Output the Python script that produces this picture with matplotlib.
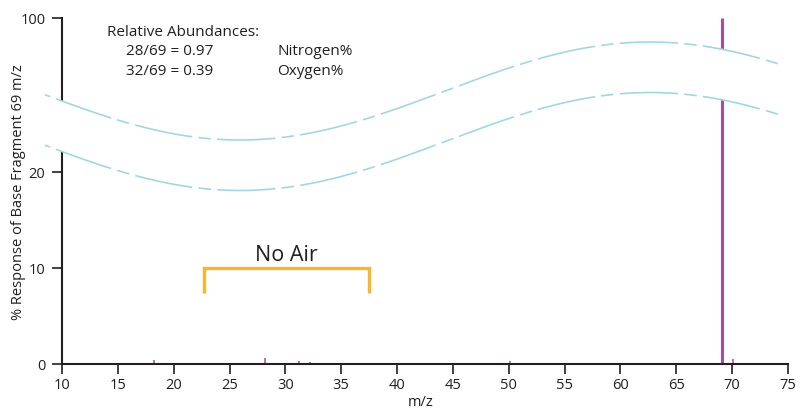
import numpy as np
import matplotlib
matplotlib.use('Agg')
import matplotlib.pyplot as plt
from matplotlib.patches import Polygon

plt.rcParams['font.family'] = ['Open Sans', 'DejaVu Sans']
plt.rcParams['lines.scale_dashes'] = False

# 峰值数据 (m/z, % response)
mz = [18.2, 28.2, 31.2, 32.2, 50.1, 69.1, 70.1]
response = [0.4, 0.65, 0.3, 0.2, 0.35, 100, 0.5]

x_ticks = list(range(10, 80, 5))
y_ticks = [0, 10, 20, 100]

# "No Air" 区间
bracket_x = [22.7, 37.5]
bracket_top = 10
bracket_bottom = 7.4

abund_title = "Relative Abundances:"
abund_ratios = ["28/69 = 0.97", "32/69 = 0.39"]
abund_names = ["Nitrogen%", "Oxygen%"]

ink = '#231f20'
purple = '#a24f9f'
orange = '#fbb52d'
cyan = '#a2d8dd'

# 断轴: 20 以上压缩
BREAK = 20
K = 0.2005


def fwd(y):
    y = np.asarray(y, dtype=float)
    return np.where(y <= BREAK, y, BREAK + (y - BREAK) * K)


def inv(d):
    d = np.asarray(d, dtype=float)
    return np.where(d <= BREAK, d, BREAK + (d - BREAK) / K)


fig = plt.figure(figsize=(8.06, 4.10), dpi=100)
ax = fig.add_axes([62 / 806, 1 - 365 / 410, 726 / 806, 346 / 410])
ax.set_yscale('function', functions=(fwd, inv))
ax.set_xlim(10, 75)
ax.set_ylim(0, 100)

widths = [2.2 if r > 50 else 1.1 for r in response]
ax.vlines(mz, 0, response, colors=purple, linewidths=widths, zorder=2)

ax.plot([bracket_x[0], bracket_x[0], bracket_x[1], bracket_x[1]],
        [bracket_bottom, bracket_top, bracket_top, bracket_bottom],
        color=orange, lw=2.4, solid_joinstyle='miter', solid_capstyle='butt')
ax.text(sum(bracket_x) / 2, 10.8, "No Air", ha='center', va='baseline',
        fontsize=15.5, color=ink)

# 文字注释
tr = ax.get_xaxis_transform()
ax.text(14.0, 0.951, abund_title, transform=tr,
        fontsize=11, color=ink, va='baseline')
for i, (r, n) in enumerate(zip(abund_ratios, abund_names)):
    yb = (365 - (55 + 20 * i)) / 346
    ax.text(15.75, yb, r, transform=tr, fontsize=11, color=ink, va='baseline')
    ax.text(29.3, yb, n, transform=tr, fontsize=11, color=ink, va='baseline')

# 波浪断轴标记 (像素 -> 轴坐标)
px = np.linspace(45, 781, 400)
up_py = 92 - 49 * np.cos(2 * np.pi * (px - 650) / 820)
lo_py = up_py + 50.5
xa = (px - 62) / 726
ya_up = (365 - up_py) / 346
ya_lo = (365 - lo_py) / 346
verts = np.column_stack([np.concatenate([xa, xa[::-1]]),
                         np.concatenate([ya_up, ya_lo[::-1]])])
ax.add_patch(Polygon(verts, closed=True, transform=ax.transAxes,
                     facecolor='white', edgecolor='none', zorder=3, clip_on=False))
dash = (5.0, (9, 4.5, 42, 4.5))
for ya in (ya_up, ya_lo):
    ax.plot(xa, ya, transform=ax.transAxes, color=cyan, lw=1.2,
            linestyle=dash, zorder=4, clip_on=False)

for s in ['top', 'right']:
    ax.spines[s].set_visible(False)
for s in ['left', 'bottom']:
    ax.spines[s].set_linewidth(1.5)
    ax.spines[s].set_color(ink)

ax.set_xticks(x_ticks)
ax.set_yticks(y_ticks)
ax.set_yticklabels([str(v) for v in y_ticks])
ax.minorticks_off()
ax.tick_params(axis='both', direction='out', length=7, width=1.2, color=ink,
               labelcolor=ink, labelsize=10.5)
ax.tick_params(axis='x', pad=2.5)
ax.tick_params(axis='y', pad=5)

ax.set_xlabel('m/z', fontsize=10.5, color=ink)
ax.xaxis.set_label_coords(0.494, -0.087)
ax.set_ylabel('% Response of Base Fragment 69 m/z', fontsize=10.5, color=ink)
ax.yaxis.set_label_coords(-0.05, 0.5)

fig.savefig('out.png', dpi=100)
